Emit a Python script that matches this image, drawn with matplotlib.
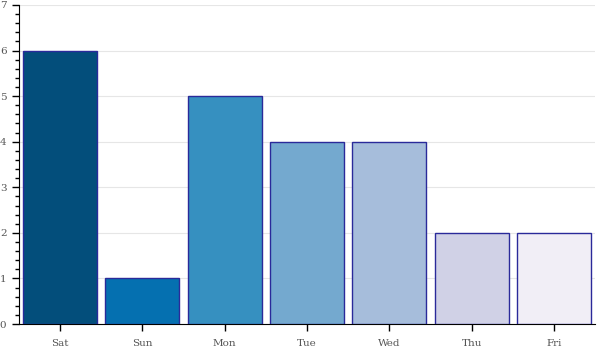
import matplotlib
matplotlib.use("Agg")
import matplotlib.pyplot as plt
from matplotlib.ticker import MultipleLocator

days = ["Sat", "Sun", "Mon", "Tue", "Wed", "Thu", "Fri"]
values = [6, 1, 5, 4, 4, 2, 2]
colors = ["#034e7b", "#0570b0", "#3690c0", "#74a9cf", "#a6bddb", "#d0d1e6", "#f1eef6"]

plt.rcParams['font.family'] = ['DejaVu Serif']
fig = plt.figure(figsize=(6, 3.5), dpi=100)
ax = fig.add_axes([19/600, 26/350, 576/600, 319/350])

x = list(range(len(days)))
ax.bar(x, values, width=0.9, color=colors, edgecolor="#2a2a9a", linewidth=1.0, zorder=3)
ax.set_xlim(-0.5, len(days) - 0.5)
ax.set_ylim(0, 7)
ax.set_xticks(x)
ax.set_xticklabels(days)
ax.yaxis.set_major_locator(MultipleLocator(1))
ax.yaxis.set_minor_locator(MultipleLocator(0.2))
ax.grid(axis="y", color="#e6e6e6", linewidth=0.8, zorder=0)
for s in ["top", "right"]:
    ax.spines[s].set_visible(False)
ax.tick_params(axis="both", which="major", labelsize=7.5, labelcolor="#555555", length=5, width=1)
ax.tick_params(axis="y", which="minor", length=3, width=1)
ax.tick_params(axis="x", pad=6)
ax.tick_params(axis="y", pad=4)
fig.savefig("out.png", dpi=100)
